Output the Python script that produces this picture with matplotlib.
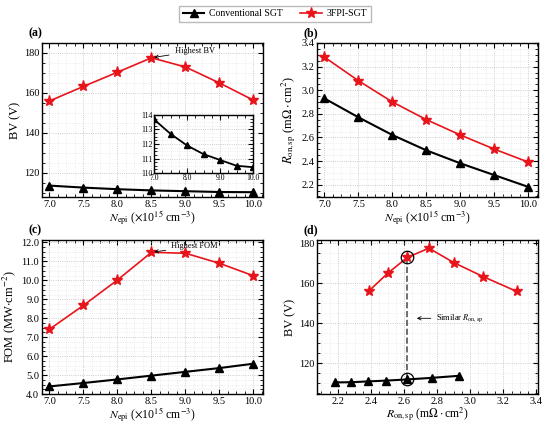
import matplotlib.pyplot as plt
import numpy as np
from matplotlib.ticker import AutoMinorLocator, MultipleLocator

plt.rcParams["font.family"] = ["Liberation Serif", "DejaVu Serif"]
plt.rcParams["mathtext.fontset"] = "stix"
plt.rcParams["font.size"] = 8

n_epi = [7.0, 7.5, 8.0, 8.5, 9.0, 9.5, 10.0]
bv_conv = [113.7, 112.7, 111.9, 111.3, 110.9, 110.5, 110.4]
bv_fpi = [156.0, 163.3, 170.4, 177.6, 173.0, 165.0, 156.4]
ron_conv = [2.93, 2.77, 2.62, 2.49, 2.38, 2.28, 2.18]
ron_fpi = [3.28, 3.08, 2.90, 2.75, 2.62, 2.50, 2.39]
fom_conv = [4.40, 4.58, 4.77, 4.97, 5.17, 5.37, 5.60]
fom_fpi = [7.42, 8.68, 10.02, 11.48, 11.43, 10.90, 10.24]

labels = ["Conventional SGT", "3FPI-SGT"]
xlab = r"$N_{\rm epi}$ ($\times$10$^{15}$ cm$^{-3}$)"
ronlab = r"$R_{\rm on,sp}$ (m$\Omega\cdot$cm$^2$)"

W, H = 550, 424
fig = plt.figure(figsize=(W / 100, H / 100), dpi=100)


def add_ax(l, t, r, b):
    return fig.add_axes([l / W, 1 - b / H, (r - l) / W, (b - t) / H])


def style(ax, xmaj=None, ymaj=None):
    if xmaj:
        ax.xaxis.set_major_locator(MultipleLocator(xmaj))
    if ymaj:
        ax.yaxis.set_major_locator(MultipleLocator(ymaj))
    ax.xaxis.set_minor_locator(AutoMinorLocator(4))
    ax.yaxis.set_minor_locator(AutoMinorLocator(4))
    ax.tick_params(which="both", direction="in", top=True, right=True, labelsize=7.5, pad=2)
    ax.tick_params(which="major", length=3.5, width=0.8)
    ax.tick_params(which="minor", length=2, width=0.6)
    ax.grid(True, which="major", ls=":", color="#bbbbbb", lw=0.6)
    ax.grid(True, which="minor", ls=":", color="#e2e2e2", lw=0.5)
    ax.set_axisbelow(True)
    for s in ax.spines.values():
        s.set_linewidth(1.0)


def finish(ax, xl, yl, tag):
    ax.set_xlabel(xl, fontsize=8.5, labelpad=0)
    ax.set_ylabel(yl, fontsize=9, labelpad=2)
    ax.text(-0.063, 1.025, tag, transform=ax.transAxes, fontsize=8.5,
            fontweight="bold", va="bottom")


def plot_pair(ax, x1, y1, x2, y2):
    l1, = ax.plot(x1, y1, color="black", marker="^", ms=5.5, lw=1.5)
    l2, = ax.plot(x2, y2, color="#e8141b", marker="*", ms=8, lw=1.2)
    return l1, l2


# (a)
ax_a = add_ax(42, 43, 263, 197)
l1, l2 = plot_pair(ax_a, n_epi, bv_conv, n_epi, bv_fpi)
ax_a.set_xlim(6.89, 10.14)
ax_a.set_ylim(108, 185)
style(ax_a, 0.5, 20)
finish(ax_a, xlab, "BV (V)", "(a)")
ax_a.annotate("Highest BV", xy=(n_epi[3], bv_fpi[3]), xytext=(8.84, 181),
              fontsize=6, va="center",
              arrowprops=dict(arrowstyle="->", color="black", lw=0.6))

ins = add_ax(154, 115, 253, 173)
ins.plot(n_epi, bv_conv, color="black", marker="^", ms=4, lw=1.3)
ins.set_xlim(7.0, 10.0)
ins.set_ylim(110, 114)
style(ins, 1.0, 1)
ins.tick_params(labelsize=5.5, pad=1)
ins.xaxis.set_major_formatter("{x:.1f}")

# (b)
ax_b = add_ax(317, 43, 538, 197)
plot_pair(ax_b, n_epi, ron_conv, n_epi, ron_fpi)
ax_b.set_xlim(6.89, 10.14)
ax_b.set_ylim(2.095, 3.4)
style(ax_b, 0.5, 0.2)
finish(ax_b, xlab, ronlab, "(b)")

# (c)
ax_c = add_ax(42, 240, 263, 394)
plot_pair(ax_c, n_epi, fom_conv, n_epi, fom_fpi)
ax_c.set_xlim(6.89, 10.14)
ax_c.set_ylim(4.0, 12.13)
style(ax_c, 0.5, 1.0)
ax_c.yaxis.set_major_formatter("{x:.1f}")
finish(ax_c, xlab, r"FOM (MW$\cdot$cm$^{-2}$)", "(c)")
ax_c.annotate("Highest FOM", xy=(n_epi[3], fom_fpi[3]), xytext=(8.79, 11.8),
              fontsize=6, va="center",
              arrowprops=dict(arrowstyle="->", color="black", lw=0.6))

# (d)
ax_d = add_ax(317, 240, 538, 394)
plot_pair(ax_d, ron_conv, bv_conv, ron_fpi, bv_fpi)
ax_d.set_xlim(2.073, 3.41)
ax_d.set_ylim(104.6, 181.7)
style(ax_d, 0.2, 20)
finish(ax_d, ronlab, "BV (V)", "(d)")
x_sim = ron_fpi[4]
ax_d.plot([x_sim, x_sim], [bv_conv[2], bv_fpi[4]], color="#555555", ls="--", lw=1.2, zorder=1)
ax_d.plot([ron_conv[2], ron_fpi[4]], [bv_conv[2], bv_fpi[4]], ls="none", marker="o",
          ms=9, mfc="none", mec="black", mew=0.9)
ax_d.annotate("Similar " + r"$R_{\rm on,sp}$", xy=(2.66, 142.5), xytext=(2.795, 142.5),
              fontsize=6, va="center",
              arrowprops=dict(arrowstyle="->", color="black", lw=0.6))

fig.legend([l1, l2], labels, loc="upper center", bbox_to_anchor=(0.5, 0.998), ncol=2,
           fontsize=7, frameon=True, fancybox=False, edgecolor="#aaaaaa",
           handlelength=2.2, columnspacing=1.8, borderpad=0.35, handletextpad=0.5)

fig.savefig("out.png", dpi=100)
